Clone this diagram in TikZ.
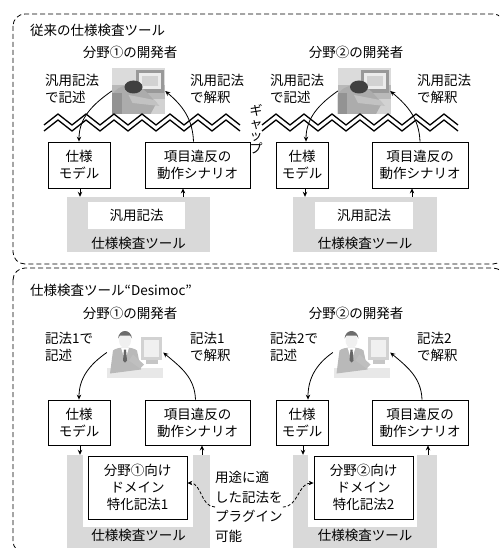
\documentclass[tikz,border=0pt]{standalone}
\usepackage{fontspec}
\setmainfont{Noto Sans CJK JP}
\usetikzlibrary{arrows.meta}
\definecolor{toolgray}{RGB}{217,217,217}

% grey photo of a developer slumped over the keyboard (local coords, 53x46)
\newcommand\slumpedworker{%
  \fill[gray!55] (-26.5,-23) rectangle (26.5,23);
  \fill[gray!28] (-26.5,6) rectangle (26.5,23);
  \fill[gray!80] (-3,-2) rectangle (25,21);
  \fill[gray!15] (0,2) rectangle (22,18);
  \fill[gray!35] (3,5) rectangle (19,15);
  \fill[gray!35] (4,-23) rectangle (26.5,-8);
  \fill[gray!65] (-26.5,-23) -- (-26.5,-4) .. controls (-20,8) and (-2,9) .. (8,-1)
        -- (18,-12) -- (12,-23) -- cycle;
  \fill[gray!48] (-10,-4) -- (16,-9) -- (21,-15) -- (-6,-12) -- cycle;
  \fill[black!75] (-5,4) ellipse (9 and 6.5);
  \fill[gray!85] (-26.5,-23) rectangle (-17,-2);
}
% clip-art office worker sitting at a computer (local coords, 56x51)
\newcommand\officeworker{%
  \fill[gray!35] (6,-7) rectangle (27,16);
  \fill[gray!12] (9,-4) rectangle (24,13);
  \fill[gray!45] (11,-11) rectangle (23,-7);
  \fill[gray!18] (-28,-25.5) rectangle (28,-15);
  \fill[gray!55] (-25,-21) -- (-22,2) .. controls (-18,6) and (-2,6) .. (2,2)
        -- (6,-17) -- cycle;
  \fill[white] (-14,5) -- (-6,5) -- (-10,-8) -- cycle;
  \fill[gray!80!black] (-11,3) -- (-9,3) -- (-8,-8) -- (-10,-10) -- (-12,-8) -- cycle;
  \fill[gray!50] (-2,-2) -- (9,-12) -- (5,-16) -- (-6,-8) -- cycle;
  \fill[gray!12] (-10,12) ellipse (6 and 7.5);
  \fill[gray!85!black] (-17,14) .. controls (-16,24) and (-4,24) .. (-3,14)
        -- (-5,17) -- (-15,17) -- cycle;
}

\begin{document}
\begin{tikzpicture}[x=1pt,y=1pt,
  every node/.style={inner sep=0pt, font=\fontsize{13.5}{17}\selectfont},
  box/.style={draw, line width=0.8pt, fill=white, align=center},
  frame/.style={draw, dash pattern=on 5pt off 3pt, line width=0.8pt, rounded corners=12pt},
  flow/.style={line width=0.8pt, -{Stealth[length=5pt,width=4.5pt]}},
  plug/.style={flow, dash pattern=on 3pt off 2pt},
  wave/.style={line width=1.3pt, line join=miter},
  tool/.style={fill=toolgray},
  well/.style={fill=white},
  lbl/.style={align=left, anchor=west},
  photo/.style={minimum width=#1, minimum height=46pt},
]
\useasboundingbox (0,0) rectangle (499,-548);
\clip (0,0) rectangle (499,-548);

% ---------------- dashed frames ----------------
\draw[frame] (13,-14) rectangle (505,-264);
\draw[frame] (13,-268) rectangle (505,-553);

% ================= upper part: conventional checker =================
\node[lbl] (t1) at (30,-30) {従来の仕様検査ツール};

\node (dev1) at (130,-52) {分野①の開発者};
\node (dev2) at (356,-52) {分野②の開発者};

\node[photo=53pt] (p1) at (138.5,-91) {};
\node[photo=52pt] (p2) at (364,-91) {};
\begin{scope}[shift={(p1.center)}]\slumpedworker\end{scope}
\begin{scope}[shift={(p2.center)}]\slumpedworker\end{scope}

\node[lbl] (w1) at (45,-88.5) {汎用記法\\で記述};
\node[lbl] (r1) at (190,-88.5) {汎用記法\\で解釈};
\node[lbl] (w2) at (270,-88.5) {汎用記法\\で記述};
\node[lbl] (r2) at (417,-88.5) {汎用記法\\で解釈};

% gap between the developers and the tool
\draw[wave] (44,-125) \foreach \k in {0,...,6} { -- ({58+28*\k},-114) -- ({72+28*\k},-125) };
\draw[wave] (44,-131) \foreach \k in {0,...,6} { -- ({58+28*\k},-120) -- ({72+28*\k},-131) };
\draw[wave] (262,-125) \foreach \k in {0,...,6} { -- ({276+28*\k},-114) -- ({290+28*\k},-125) };
\draw[wave] (262,-131) \foreach \k in {0,...,6} { -- ({276+28*\k},-120) -- ({290+28*\k},-131) };
\node[align=center, font=\fontsize{13}{12.5}\selectfont] (gap) at (256,-129) {ギ\\ャ\\ッ\\プ};

\node[box, minimum width=62pt, minimum height=46pt] (m1) at (79,-165) {仕様\\モデル};
\node[box, minimum width=105pt, minimum height=46pt] (s1) at (197.5,-165) {項目違反の\\動作シナリオ};
\node[box, minimum width=52pt, minimum height=46pt] (m2) at (302,-165) {仕様\\モデル};
\node[box, minimum width=96pt, minimum height=46pt] (s2) at (420,-165) {項目違反の\\動作シナリオ};

\node[tool, minimum width=143pt, minimum height=55pt] (g1) at (138.5,-224.5) {};
\node[well, minimum width=97pt, minimum height=27pt] (h1) at (136.5,-215.5) {汎用記法};
\node (n1) at (138.5,-243) {仕様検査ツール};
\node[tool, minimum width=144pt, minimum height=55pt] (g2) at (365,-224.5) {};
\node[well, minimum width=98pt, minimum height=27pt] (h2) at (364,-215.5) {汎用記法};
\node (n2) at (365,-243) {仕様検査ツール};

\draw[flow] (p1.west) to[out=215,in=90] (m1.north);
\draw[flow] ([xshift=-4pt]s1.north) to[out=92,in=-40] (p1.east);
\draw[flow] (p2.west) to[out=215,in=90] ([xshift=4pt]m2.north);
\draw[flow] (s2.north) to[out=92,in=-40] (p2.east);

\coordinate (x1) at (80,0);
\coordinate (x2) at (183,0);
\coordinate (x3) at (305,0);
\coordinate (x4) at (412,0);
\draw[flow] (m1.south -| x1) -- (g1.north -| x1);
\draw[flow] (g1.north -| x2) -- (s1.south -| x2);
\draw[flow] (m2.south -| x3) -- (g2.north -| x3);
\draw[flow] (g2.north -| x4) -- (s2.south -| x4);

% ================= lower part: Desimoc =================
\node[lbl] (t2) at (30,-290) {仕様検査ツール“Desimoc”};

\node (dev3) at (130,-313) {分野①の開発者};
\node (dev4) at (356,-313) {分野②の開発者};

\node[photo=56pt, minimum height=51pt] (p3) at (135,-352.5) {};
\node[photo=57pt, minimum height=51pt] (p4) at (361.5,-352.5) {};
\begin{scope}[shift={(p3.center)}]\officeworker\end{scope}
\begin{scope}[shift={(p4.center)}]\officeworker\end{scope}

\node[lbl] (w3) at (45,-346.5) {記法1で\\記述};
\node[lbl] (r3) at (190,-346.5) {記法1\\で解釈};
\node[lbl] (w4) at (270,-346.5) {記法2で\\記述};
\node[lbl] (r4) at (417,-346.5) {記法2\\で解釈};

\node[box, minimum width=62pt, minimum height=45pt] (m3) at (79,-422.5) {仕様\\モデル};
\node[box, minimum width=105pt, minimum height=45pt] (s3) at (197.5,-422.5) {項目違反の\\動作シナリオ};
\node[box, minimum width=52pt, minimum height=45pt] (m4) at (302,-422.5) {仕様\\モデル};
\node[box, minimum width=96pt, minimum height=45pt] (s4) at (420,-422.5) {項目違反の\\動作シナリオ};

\node[tool, minimum width=143pt, minimum height=105pt] (g3) at (138.5,-507.5) {};
\node[well, minimum width=110pt, minimum height=72pt] (k3) at (138,-491) {};
\node[box, minimum width=99pt, minimum height=63pt] (d1) at (137.5,-487.5) {分野①向け\\ドメイン\\特化記法1};
\node (n3) at (138.5,-535) {仕様検査ツール};
\node[tool, minimum width=144pt, minimum height=105pt] (g4) at (365,-507.5) {};
\node[well, minimum width=109pt, minimum height=72pt] (k4) at (362.5,-491) {};
\node[box, minimum width=99pt, minimum height=63pt] (d2) at (363.5,-487.5) {分野②向け\\ドメイン\\特化記法2};
\node (n4) at (365,-535) {仕様検査ツール};

\draw[flow] (p3.west) to[out=215,in=90] (m3.north);
\draw[flow] ([xshift=-2pt]s3.north) to[out=92,in=-40] (p3.east);
\draw[flow] (p4.west) to[out=215,in=90] ([xshift=6pt]m4.north);
\draw[flow] ([xshift=2pt]s4.north) to[out=92,in=-40] (p4.east);

\coordinate (x5) at (80,0);
\coordinate (x6) at (202,0);
\coordinate (x7) at (303,0);
\coordinate (x8) at (428,0);
\draw[flow] (m3.south -| x5) -- (g3.north -| x5);
\draw[flow] (g3.north -| x6) -- (s3.south -| x6);
\draw[flow] (m4.south -| x7) -- (g4.north -| x7);
\draw[flow] (g4.north -| x8) -- (s4.south -| x8);

\node[lbl, font=\fontsize{13.5}{19.5}\selectfont] (pl) at (215,-507) {用途に適\\した記法を\\プラグイン\\可能};
\draw[plug] (pl.west) to[out=180,in=0] ([yshift=4.5pt]d1.east);
\draw[plug] (pl.east) to[out=0,in=180] ([yshift=4.5pt]d2.west);
\end{tikzpicture}
\end{document}
